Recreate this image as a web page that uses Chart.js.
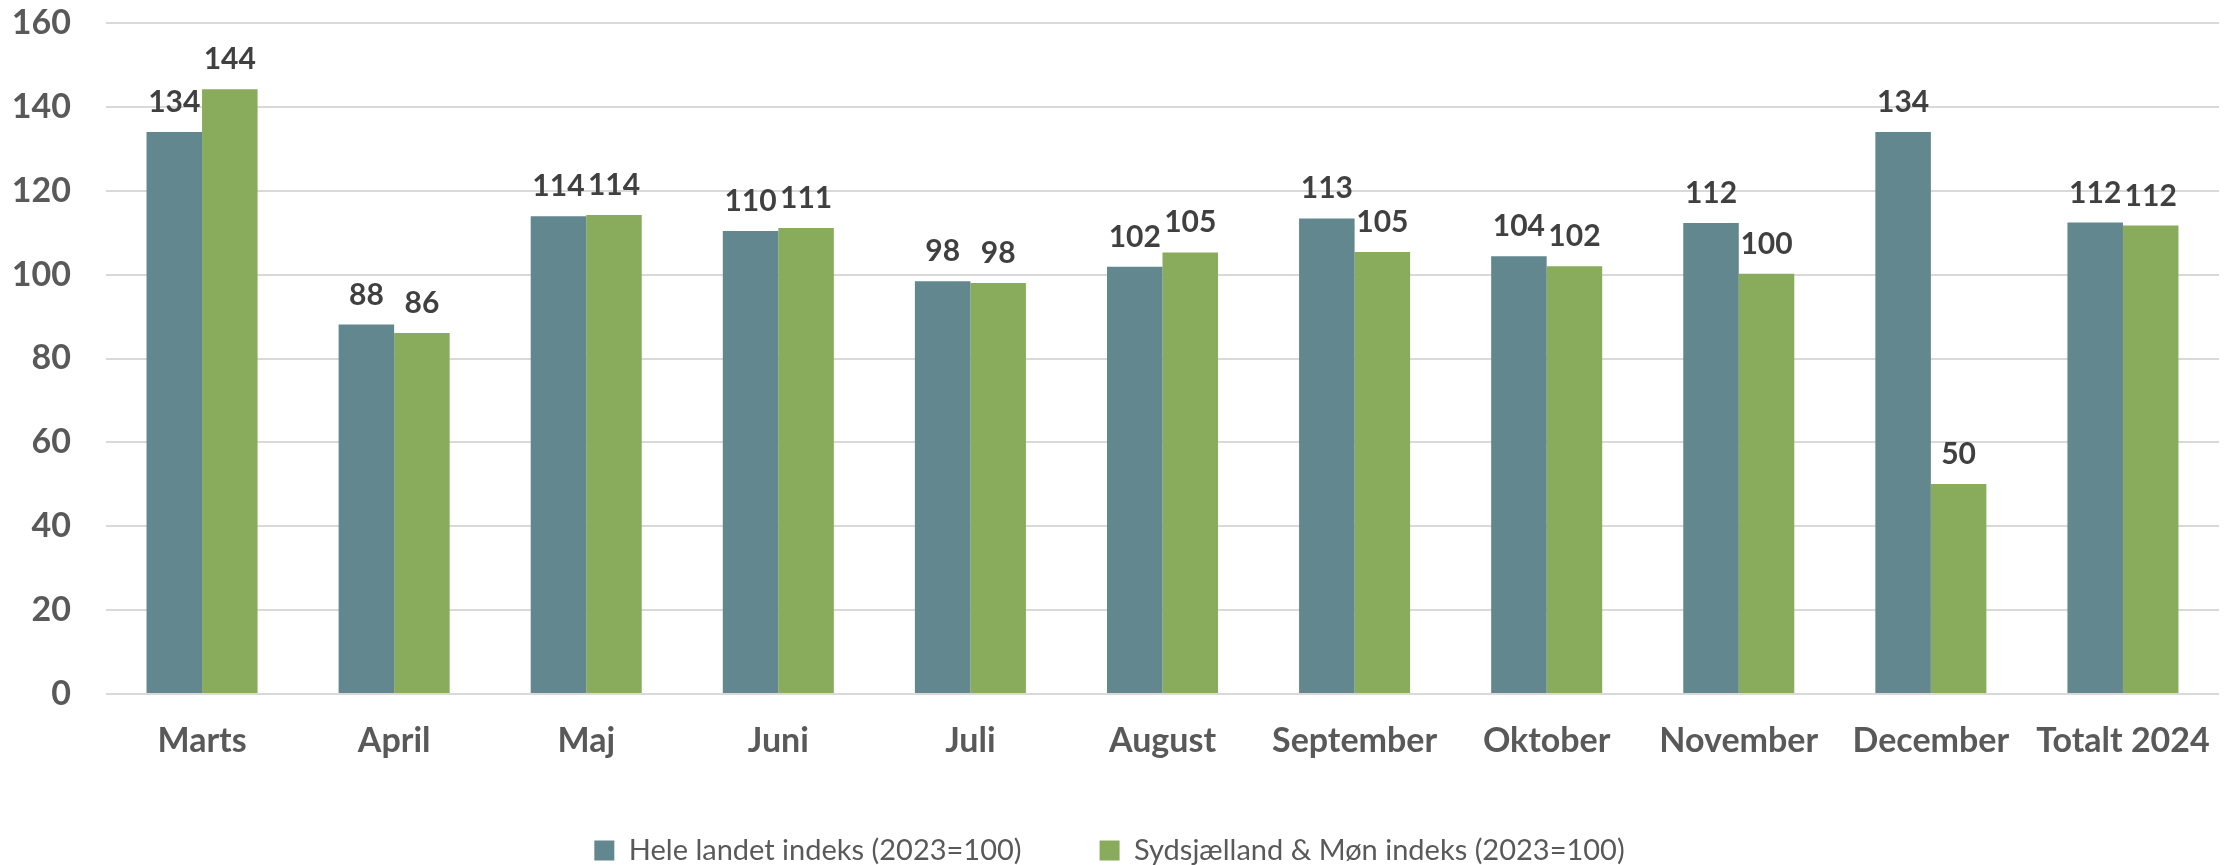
<!DOCTYPE html>
<html>
<head>
<meta charset="utf-8">
<script src="https://cdn.jsdelivr.net/npm/chart.js@4.4.1/dist/chart.umd.min.js"></script>
<style>
    html, body { margin: 0; padding: 0; background: #ffffff; }
    #wrap { width: 2225px; height: 865px; position: relative; }
</style>
</head>
<body>
<div id="wrap"><canvas id="indexChart"></canvas></div>
<script>
const categories = ['Marts', 'April', 'Maj', 'Juni', 'Juli', 'August', 'September', 'Oktober', 'November', 'December', 'Totalt 2024'];
const heleLandet = [134.0, 88.1, 113.9, 110.4, 98.4, 101.9, 113.4, 104.4, 112.3, 134.0, 112.4];
const sydsjaelland = [144.2, 86.1, 114.2, 111.1, 98.0, 105.3, 105.4, 102.0, 100.2, 50.1, 111.7];
const yTicks = [0, 20, 40, 60, 80, 100, 120, 140, 160];

// value labels above each bar
const barValueLabels = {
    id: 'barValueLabels',
    afterDatasetsDraw(chart) {
        const ctx = chart.ctx;
        ctx.save();
        ctx.font = 'bold 30px Lato';
        ctx.fillStyle = '#404040';
        ctx.textAlign = 'center';
        ctx.textBaseline = 'alphabetic';
        chart.data.datasets.forEach((ds, i) => {
            chart.getDatasetMeta(i).data.forEach((bar, j) => {
                ctx.fillText(String(Math.round(ds.data[j])), bar.x, bar.y - 20);
            });
        });
        ctx.restore();
    }
};

document.addEventListener("DOMContentLoaded", () => {
    const canvas = document.getElementById("indexChart");

    new Chart(canvas, {
        type: 'bar',
        data: {
            labels: categories,
            datasets: [{
                label: 'Hele landet indeks (2023=100)',
                data: heleLandet,
                backgroundColor: '#62878E'
            }, {
                label: 'Sydsjælland & Møn indeks (2023=100)',
                data: sydsjaelland,
                backgroundColor: '#89AC5C'
            }]
        },
        plugins: [barValueLabels],
        options: {
            responsive: true,
            maintainAspectRatio: false,
            animation: false,
            categoryPercentage: 0.578,
            barPercentage: 1.0,
            layout: {
                padding: { top: 23, right: 6, left: 0, bottom: -10 }
            },
            plugins: {
                tooltip: { enabled: false },
                legend: {
                    position: 'bottom',
                    labels: {
                        boxWidth: 20,
                        boxHeight: 20,
                        padding: 78,
                        color: '#595959',
                        font: { family: 'Lato', size: 29 }
                    }
                }
            },
            scales: {
                y: {
                    min: 0,
                    max: 160,
                    afterBuildTicks: (s) => { s.ticks = yTicks.map(v => ({ value: v })); },
                    afterFit: (s) => { s.width = 106; },
                    border: { display: false },
                    grid: {
                        color: '#D9D9D9',
                        lineWidth: 2,
                        drawTicks: true,
                        tickLength: 35,
                        tickColor: 'rgba(0,0,0,0)'
                    },
                    ticks: {
                        padding: 0,
                        color: '#595959',
                        font: { family: 'Lato', size: 34, weight: 'bold' }
                    }
                },
                x: {
                    afterFit: (s) => { s.height = 64; },
                    border: { display: false },
                    grid: { display: false, drawTicks: true, tickLength: 27 },
                    ticks: {
                        padding: 0,
                        maxRotation: 0,
                        autoSkip: false,
                        color: '#595959',
                        font: { family: 'Lato', size: 34, weight: 'bold' }
                    }
                }
            }
        }
    });
});
</script>
</body>
</html>
